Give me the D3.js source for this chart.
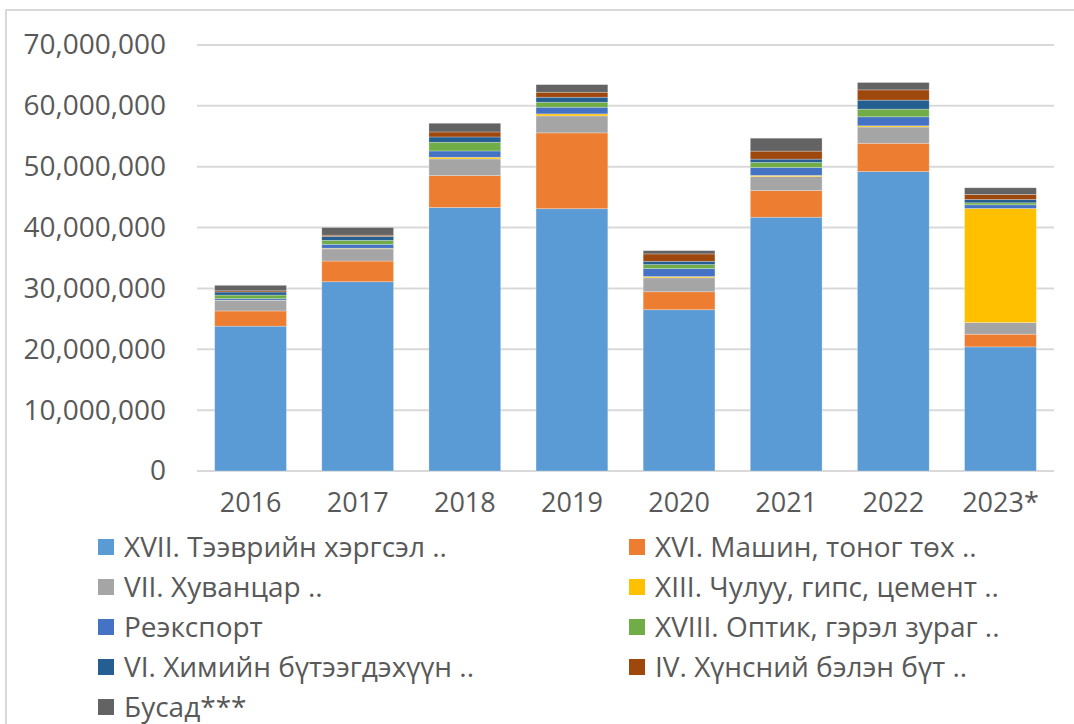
<!DOCTYPE html>
<html>
<head>
<meta charset="utf-8">
<script src="https://cdn.jsdelivr.net/npm/d3@7"></script>
<style>
    body { margin: 0; background: #fff; }
    svg { display: block; }
    svg text { font-family: "Open Sans", "Noto Sans", sans-serif; }
</style>
</head>
<body>
<svg id="chart" width="1074" height="724"></svg>
<script>
// years on the x axis
const years = ["2016", "2017", "2018", "2019", "2020", "2021", "2022", "2023*"];

// series names, bottom of the stack first
const seriesNames = [
    "XVII. Тээврийн хэргсэл ..",
    "XVI. Машин, тоног төх ..",
    "VII. Хуванцар ..",
    "XIII. Чулуу, гипс, цемент ..",
    "Реэкспорт",
    "XVIII. Оптик, гэрэл зураг ..",
    "VI. Химийн бүтээгдэхүүн ..",
    "IV. Хүнсний бэлэн бүт ..",
    "Бусад***",
];

const seriesColors = [
    "#5b9bd5", "#ed7d31", "#a5a5a5", "#ffc000", "#4472c4",
    "#70ad47", "#255e91", "#9e480e", "#636363",
];

// values per series, one per year
const transport = [23800000, 31100000, 43300000, 43100000, 26500000, 41700000, 49200000, 20400000];
const machinery = [2500000, 3400000, 5250000, 12460000, 2950000, 4370000, 4650000, 2080000];
const plastics = [1700000, 2000000, 2730000, 2790000, 2300000, 2300000, 2670000, 1920000];
const stone = [50000, 100000, 280000, 330000, 200000, 200000, 200000, 18740000];
const reexport = [260000, 650000, 1030000, 1100000, 1310000, 1310000, 1480000, 600000];
const optics = [600000, 650000, 1430000, 820000, 660000, 820000, 1260000, 330000];
const chemicals = [500000, 650000, 870000, 820000, 540000, 550000, 1480000, 550000];
const food = [200000, 200000, 820000, 820000, 1210000, 1310000, 1690000, 820000];
const other = [900000, 1260000, 1430000, 1250000, 540000, 2130000, 1210000, 1100000];

const seriesValues = [transport, machinery, plastics, stone, reexport, optics, chemicals, food, other];

const yTicks = [0, 10000000, 20000000, 30000000, 40000000, 50000000, 60000000, 70000000];

const TEXT_COLOR = "#595959";
const GRID_COLOR = "#d9d9d9";

const svg = d3.select("#chart");

// outer chart frame, it runs past the right and bottom edges
svg.append("rect")
    .attr("x", 6)
    .attr("y", 10)
    .attr("width", 1100)
    .attr("height", 760)
    .attr("fill", "none")
    .attr("stroke", GRID_COLOR)
    .attr("stroke-width", 2);

const plot = { left: 197, right: 1054, top: 45, bottom: 471 };

const x = d3.scaleBand()
    .domain(years)
    .range([plot.left, plot.right])
    .paddingInner(0.33)
    .paddingOuter(0.165);

const y = d3.scaleLinear()
    .domain([0, 70000000])
    .range([plot.bottom, plot.top]);

// gridlines
svg.append("g")
    .selectAll("line")
    .data(yTicks)
    .join("line")
    .attr("x1", plot.left)
    .attr("x2", plot.right)
    .attr("y1", d => y(d))
    .attr("y2", d => y(d))
    .attr("stroke", GRID_COLOR)
    .attr("stroke-width", 2);

// y axis labels
const yAxis = svg.append("g")
    .attr("transform", "translate(166,0)")
    .call(d3.axisLeft(y).tickValues(yTicks).tickSize(0).tickPadding(0).tickFormat(d3.format(",")))
    .attr("font-family", null)
    .attr("font-size", 28);
yAxis.select(".domain").remove();
yAxis.selectAll("text")
    .attr("fill", TEXT_COLOR);

// stacked bars
const table = years.map((year, i) => {
    const row = { year };
    seriesNames.forEach((name, s) => { row[name] = seriesValues[s][i]; });
    return row;
});
const stacked = d3.stack().keys(seriesNames)(table);

svg.append("g")
    .selectAll("g")
    .data(stacked)
    .join("g")
    .attr("fill", (d, i) => seriesColors[i])
    .selectAll("rect")
    .data(d => d)
    .join("rect")
    .attr("x", d => x(d.data.year))
    .attr("width", x.bandwidth())
    .attr("y", d => y(d[1]))
    .attr("height", d => y(d[0]) - y(d[1]))
    .attr("stroke", "#ffffff")
    .attr("stroke-opacity", 0.35)
    .attr("stroke-width", 0.75);

// x axis labels
const xAxis = svg.append("g")
    .attr("transform", `translate(0,${plot.bottom + 22})`)
    .call(d3.axisBottom(x).tickSize(0).tickPadding(0))
    .attr("font-family", null)
    .attr("font-size", 27);
xAxis.select(".domain").remove();
xAxis.selectAll("text")
    .attr("fill", TEXT_COLOR);

// legend, two columns filled row by row
const legend = svg.append("g")
    .selectAll("g")
    .data(seriesNames)
    .join("g")
    .attr("transform", (d, i) => {
        const col = i % 2;
        const row = Math.floor(i / 2);
        return `translate(${col === 0 ? 98 : 629},${547 + row * 40})`;
    });

legend.append("rect")
    .attr("x", 0)
    .attr("y", -8)
    .attr("width", 16)
    .attr("height", 16)
    .attr("fill", (d, i) => seriesColors[i]);

legend.append("text")
    .attr("x", 26)
    .attr("dy", "0.35em")
    .attr("fill", TEXT_COLOR)
    .attr("font-size", 28)
    .text(d => d);
</script>
</body>
</html>
